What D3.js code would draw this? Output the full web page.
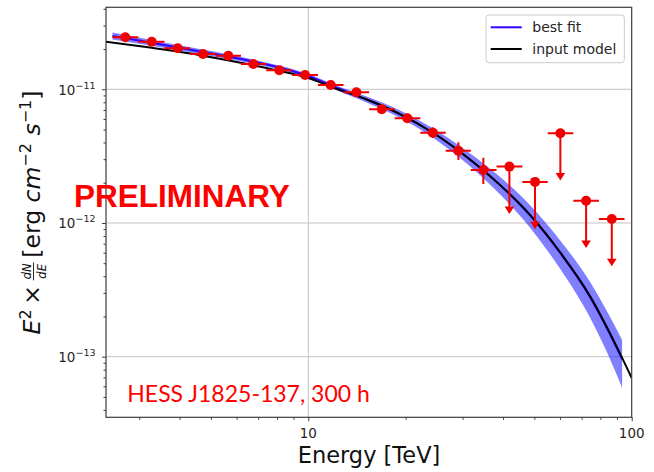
<!DOCTYPE html>
<html>
<head>
<meta charset="utf-8">
<script src="https://cdn.jsdelivr.net/npm/d3@7/dist/d3.min.js"></script>
<style>
  body { margin: 0; background: #fff; }
  svg { display: block; }
</style>
</head>
<body>
<svg id="chart" width="654" height="472"></svg>
<script>
// ---- Spectral points (TeV, erg cm^-2 s^-1) ----
const energy = [2.716, 3.279, 3.945, 4.724, 5.655, 6.759, 8.135, 9.77, 11.73, 14.08,
                16.87, 20.24, 24.26, 29.11, 34.77, 41.86, 50.24, 60.17, 72.28, 86.78];
const binEdges = [2.48, 2.98, 3.59, 4.31, 5.17, 6.19, 7.41, 8.91, 10.71, 12.85, 15.42,
                  18.5, 22.2, 26.6, 31.8, 38.2, 45.9, 55.0, 66.0, 79.2, 95.0];
const flux = [2.448e-11, 2.270e-11, 2.026e-11, 1.837e-11, 1.784e-11, 1.546e-11, 1.387e-11,
              1.279e-11, 1.077e-11, 9.50e-12, 7.09e-12, 6.07e-12, 4.74e-12, 3.47e-12,
              2.49e-12, 2.64e-12, 2.03e-12, 4.69e-12, 1.468e-12, 1.071e-12];
const fluxLow = [2.39e-11, 2.22e-11, 1.98e-11, 1.79e-11, 1.74e-11, 1.50e-11, 1.35e-11,
                 1.24e-11, 1.04e-11, 9.15e-12, 6.67e-12, 5.62e-12, 4.32e-12, 2.96e-12,
                 1.96e-12, null, null, null, null, null];
const fluxHigh = [2.51e-11, 2.32e-11, 2.07e-11, 1.88e-11, 1.83e-11, 1.59e-11, 1.43e-11,
                  1.32e-11, 1.12e-11, 9.87e-12, 7.53e-12, 6.55e-12, 5.19e-12, 4.01e-12,
                  3.08e-12, null, null, null, null, null];
const upperLimit = [0, 0, 0, 0, 0, 0, 0, 0, 0, 0, 0, 0, 0, 0, 0, 1, 1, 1, 1, 1];

// ---- Input model curve ----
const modelEnergy = [2.367, 3.24, 4.62, 6.60, 8.17, 10.0, 11.95, 15.16, 19.21, 24.36,
                     30.9, 39.2, 48.5, 60.0, 74.3, 87.8, 100.0];
const modelFlux = [2.27e-11, 2.05e-11, 1.80e-11, 1.53e-11, 1.37e-11, 1.215e-11, 1.03e-11,
                   8.39e-12, 6.53e-12, 4.71e-12, 3.12e-12, 1.92e-12, 1.15e-12, 6.07e-13,
                   2.84e-13, 1.33e-13, 6.93e-14];

// ---- Best fit and its uncertainty band ----
const fitEnergy = [2.48, 3.24, 4.62, 6.60, 8.17, 10.0, 11.95, 15.16, 19.21, 24.36,
                   30.9, 39.2, 48.5, 60.0, 74.3, 87.8, 93.4];
const fitFlux = [2.51e-11, 2.24e-11, 1.92e-11, 1.63e-11, 1.45e-11, 1.257e-11, 1.049e-11,
                 8.40e-12, 6.53e-12, 4.71e-12, 3.12e-12, 1.92e-12, 1.14e-12, 6.0e-13,
                 2.8e-13, 1.31e-13, 9.6e-14];
const fitBandLow = [2.36e-11, 2.13e-11, 1.84e-11, 1.57e-11, 1.40e-11, 1.213e-11, 1.007e-11,
                    7.98e-12, 6.11e-12, 4.33e-12, 2.78e-12, 1.63e-12, 9.23e-13, 4.56e-13,
                    1.96e-13, 8.38e-14, 5.86e-14];
const fitBandHigh = [2.66e-11, 2.35e-11, 2.00e-11, 1.69e-11, 1.50e-11, 1.301e-11, 1.091e-11,
                     8.82e-12, 6.95e-12, 5.09e-12, 3.46e-12, 2.21e-12, 1.357e-12, 7.44e-13,
                     3.64e-13, 1.78e-13, 1.334e-13];

// ---- Axes ----
const xMajorTicks = [10, 100];
const xTickLabels = ["10", "100"];
const yMajorTicks = [1e-13, 1e-12, 1e-11];
const yTickExponents = ["\u221213", "\u221212", "\u221211"];
const legendLabels = ["best fit", "input model"];

const svg = d3.select("#chart");
const plot = { left: 106, right: 631.7, top: 7.3, bottom: 417.3 };

const x = d3.scaleLog().domain([2.368, 100]).range([plot.left, plot.right]);
const y = d3.scaleLog().domain([3.52e-14, 4.105e-11]).range([plot.bottom, plot.top]);

const axisFont = "'DejaVu Sans', sans-serif";
const frameColor = "#3c3c3c";
const red = "#f00000";

svg.append("defs").append("clipPath").attr("id", "plotClip")
  .append("rect")
  .attr("x", plot.left).attr("y", plot.top)
  .attr("width", plot.right - plot.left).attr("height", plot.bottom - plot.top);

// grid at major ticks
const grid = svg.append("g").attr("stroke", "#c4c4c4").attr("stroke-width", 1);
grid.selectAll(".gx").data(xMajorTicks.filter(v => x(v) < plot.right - 1)).join("line")
  .attr("x1", d => x(d)).attr("x2", d => x(d))
  .attr("y1", plot.top).attr("y2", plot.bottom);
grid.selectAll(".gy").data(yMajorTicks).join("line")
  .attr("x1", plot.left).attr("x2", plot.right)
  .attr("y1", d => y(d)).attr("y2", d => y(d));

// ticks (outward), minor ones from the log scale's own tick generator
const isMajor = v => Math.abs(Math.log10(v) - Math.round(Math.log10(v))) < 1e-6;
const xMinor = x.ticks().filter(v => !isMajor(v));
const yMinor = y.ticks().filter(v => !isMajor(v));

const xAxisMinor = d3.axisBottom(x).tickValues(xMinor).tickSize(2.5).tickFormat("");
const xAxisMajor = d3.axisBottom(x).tickValues(xMajorTicks).tickSize(4).tickFormat("");
const yAxisMinor = d3.axisLeft(y).tickValues(yMinor).tickSize(2.5).tickFormat("");
const yAxisMajor = d3.axisLeft(y).tickValues(yMajorTicks).tickSize(4).tickFormat("");

[xAxisMinor, xAxisMajor].forEach(ax => {
  const g = svg.append("g").attr("transform", `translate(0,${plot.bottom})`).call(ax);
  g.select(".domain").remove();
  g.selectAll("line").attr("stroke", frameColor).attr("stroke-width", 1);
});
[yAxisMinor, yAxisMajor].forEach(ax => {
  const g = svg.append("g").attr("transform", `translate(${plot.left},0)`).call(ax);
  g.select(".domain").remove();
  g.selectAll("line").attr("stroke", frameColor).attr("stroke-width", 1);
});

// tick labels
svg.append("g").selectAll("text").data(xMajorTicks).join("text")
  .attr("x", d => x(d)).attr("y", 438)
  .attr("text-anchor", "middle")
  .attr("font-family", axisFont).attr("font-size", 13.5).attr("fill", "#262626")
  .text((d, i) => xTickLabels[i]);

const yLabels = svg.append("g").selectAll("text").data(yMajorTicks).join("text")
  .attr("x", 95.5).attr("y", d => y(d) + 5.5)
  .attr("text-anchor", "end")
  .attr("font-family", axisFont).attr("fill", "#262626");
yLabels.append("tspan").attr("font-size", 13.5).text("10");
yLabels.append("tspan").attr("font-size", 9.5).attr("dy", -6)
  .text((d, i) => yTickExponents[i]);

// plot content
const content = svg.append("g").attr("clip-path", "url(#plotClip)");

const band = fitEnergy.map((e, i) => ({ e, lo: fitBandLow[i], hi: fitBandHigh[i] }));
content.append("path")
  .datum(band)
  .attr("fill", "#0000ff").attr("fill-opacity", 0.5).attr("stroke", "none")
  .attr("d", d3.area().x(d => x(d.e)).y0(d => y(d.lo)).y1(d => y(d.hi))
    .curve(d3.curveMonotoneX));

const lineGen = d3.line().x(d => x(d.e)).y(d => y(d.f)).curve(d3.curveMonotoneX);

content.append("path")
  .datum(fitEnergy.map((e, i) => ({ e, f: fitFlux[i] })))
  .attr("fill", "none").attr("stroke", "#3300ff").attr("stroke-width", 2)
  .attr("d", lineGen);

content.append("path")
  .datum(modelEnergy.map((e, i) => ({ e, f: modelFlux[i] })))
  .attr("fill", "none").attr("stroke", "#000").attr("stroke-width", 2)
  .attr("d", lineGen);

// flux points with error bars; upper limits drawn as downward arrows
const ulDrop = 0.443;  // arrow tip relative to the limit value
const points = energy.map((e, i) => ({
  e, f: flux[i], lo: fluxLow[i], hi: fluxHigh[i],
  e0: binEdges[i], e1: binEdges[i + 1], ul: upperLimit[i] === 1
}));

const pts = content.append("g").attr("stroke", red).attr("fill", red);
pts.selectAll(".xerr").data(points).join("line")
  .attr("x1", d => x(d.e0)).attr("x2", d => x(d.e1))
  .attr("y1", d => y(d.f)).attr("y2", d => y(d.f))
  .attr("stroke-width", 2);
pts.selectAll(".yerr").data(points.filter(d => !d.ul)).join("line")
  .attr("x1", d => x(d.e)).attr("x2", d => x(d.e))
  .attr("y1", d => y(d.hi)).attr("y2", d => y(d.lo))
  .attr("stroke-width", 2);
const uls = points.filter(d => d.ul);
pts.selectAll(".ulstem").data(uls).join("line")
  .attr("x1", d => x(d.e)).attr("x2", d => x(d.e))
  .attr("y1", d => y(d.f)).attr("y2", d => y(d.f * ulDrop) - 4)
  .attr("stroke-width", 2);
pts.selectAll(".ulhead").data(uls).join("path")
  .attr("stroke", "none")
  .attr("d", d => {
    const cx = x(d.e), ty = y(d.f * ulDrop);
    return `M${cx - 4.8},${ty - 7.5}L${cx + 4.8},${ty - 7.5}L${cx},${ty}Z`;
  });
pts.selectAll("circle").data(points).join("circle")
  .attr("cx", d => x(d.e)).attr("cy", d => y(d.f)).attr("r", 5)
  .attr("stroke", "none");

// frame
svg.append("rect")
  .attr("x", plot.left).attr("y", plot.top)
  .attr("width", plot.right - plot.left).attr("height", plot.bottom - plot.top)
  .attr("fill", "none").attr("stroke", frameColor).attr("stroke-width", 1.2);

// legend
const legend = svg.append("g");
legend.append("rect")
  .attr("x", 486).attr("y", 15).attr("width", 138.3).attr("height", 47.7)
  .attr("rx", 3).attr("fill", "#fff").attr("fill-opacity", 0.8)
  .attr("stroke", "#cccccc").attr("stroke-width", 1);
const legendColors = ["#3300ff", "#000"];
legendLabels.forEach((label, i) => {
  const ly = 27.3 + i * 21.7;
  legend.append("line")
    .attr("x1", 490.7).attr("x2", 521.7).attr("y1", ly).attr("y2", ly)
    .attr("stroke", legendColors[i]).attr("stroke-width", 2);
  legend.append("text")
    .attr("x", 532.3).attr("y", ly + 5)
    .attr("font-family", axisFont).attr("font-size", 14).attr("fill", "#262626")
    .text(label);
});

// axis titles
svg.append("text")
  .attr("x", 369).attr("y", 463)
  .attr("text-anchor", "middle")
  .attr("font-family", axisFont).attr("font-size", 22.5).attr("fill", "#111")
  .text("Energy [TeV]");

// y title: E^2 x dN/dE [erg cm^-2 s^-1], laid out piece by piece
const yTitle = svg.append("g").attr("transform", "translate(40,212.5) rotate(-90)");
const big = 23.5, small = 16;
const pieces = [
  { t: "E", size: big, italic: true },
  { t: "2", size: small, dy: -9.5 },
  { t: "\u2009\u00d7\u2009", size: big },
  { frac: ["dN", "dE"] },
  { t: "\u2009[erg\u00a0", size: big },
  { t: "cm", size: big, italic: true },
  { t: "\u22122", size: small, dy: -9.5 },
  { t: "\u00a0", size: big },
  { t: "s", size: big, italic: true },
  { t: "\u22121", size: small, dy: -9.5 },
  { t: "]", size: big }
];
let cursor = 0;
const placed = [];
pieces.forEach(p => {
  if (p.frac) {
    const g = yTitle.append("g");
    const num = g.append("text").attr("font-family", axisFont).attr("font-size", 11.5)
      .attr("font-style", "italic").attr("fill", "#111").text(p.frac[0]);
    const den = g.append("text").attr("font-family", axisFont).attr("font-size", 11.5)
      .attr("font-style", "italic").attr("fill", "#111").text(p.frac[1]);
    const w = Math.max(num.node().getComputedTextLength(), den.node().getComputedTextLength()) + 2;
    num.attr("text-anchor", "middle").attr("x", w / 2).attr("y", -9.5);
    den.attr("text-anchor", "middle").attr("x", w / 2).attr("y", 6);
    g.append("line").attr("x1", 0).attr("x2", w).attr("y1", -6.5).attr("y2", -6.5)
      .attr("stroke", "#111").attr("stroke-width", 0.9);
    placed.push({ node: g, x: cursor, group: true });
    cursor += w;
  } else {
    const tx = yTitle.append("text")
      .attr("font-family", axisFont).attr("font-size", p.size).attr("fill", "#111")
      .attr("font-style", p.italic ? "italic" : "normal")
      .attr("xml:space", "preserve")
      .attr("y", p.dy || 0)
      .text(p.t);
    placed.push({ node: tx, x: cursor });
    cursor += tx.node().getComputedTextLength();
  }
});
const offset = -cursor / 2;
placed.forEach(p => {
  if (p.group) p.node.attr("transform", `translate(${p.x + offset},0)`);
  else p.node.attr("x", p.x + offset);
});

// annotations
svg.append("text")
  .attr("x", 74).attr("y", 207)
  .attr("font-family", "'Liberation Sans', Arial, sans-serif")
  .attr("font-weight", "bold").attr("font-size", 31.5).attr("fill", "#ff0000")
  .text("PRELIMINARY");

svg.append("text")
  .attr("x", 127.3).attr("y", 401.7)
  .attr("font-family", "Lato, 'Open Sans', sans-serif")
  .attr("font-size", 23).attr("fill", "#ff0000")
  .text("HESS J1825-137, 300 h");
</script>
</body>
</html>
